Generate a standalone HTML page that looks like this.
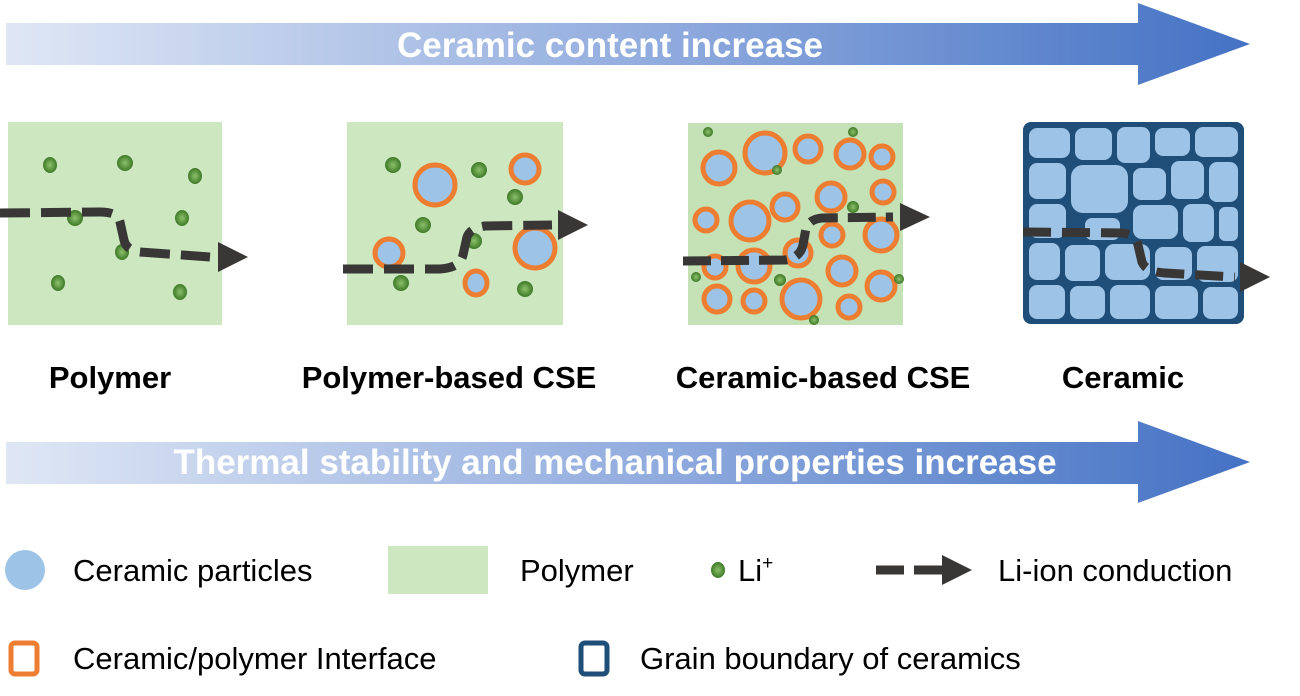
<!DOCTYPE html>
<html><head><meta charset="utf-8"><style>
html,body{margin:0;padding:0;background:#fff;}
svg{display:block;font-family:"Liberation Sans",Arial,sans-serif;}
</style></head><body>
<svg width="1300" height="696" viewBox="0 0 1300 696" xmlns="http://www.w3.org/2000/svg">
<defs>
<linearGradient id="ag" x1="0" x2="1" y1="0" y2="0">
<stop offset="0" stop-color="#dfe7f5"/><stop offset="0.5" stop-color="#94aedf"/><stop offset="1" stop-color="#4472c4"/>
</linearGradient>
<radialGradient id="li" cx="0.5" cy="0.5" r="0.5">
<stop offset="0" stop-color="#8cc06a"/><stop offset="1" stop-color="#3f7a28"/>
</radialGradient>
</defs>

<polygon points="6,23 1138,23 1138,3 1250,44 1138,85 1138,65 6,65" fill="url(#ag)"/>
<text x="610" y="57" font-size="35" font-weight="bold" fill="#fff" text-anchor="middle">Ceramic content increase</text>

<!-- Panel 1 -->
<rect x="8" y="122" width="214" height="203" fill="#cde8c0"/>
<g fill="url(#li)">
<ellipse cx="50" cy="165" rx="7" ry="8"/><ellipse cx="125" cy="163" rx="8" ry="8"/><ellipse cx="195" cy="176" rx="7" ry="8"/>
<ellipse cx="75" cy="218" rx="8" ry="8"/><ellipse cx="182" cy="218" rx="7" ry="8"/><ellipse cx="122" cy="252" rx="7" ry="8"/>
<ellipse cx="58" cy="283" rx="7" ry="8"/><ellipse cx="180" cy="292" rx="7" ry="8"/>
</g>
<path d="M0,213 L100,212 Q118,212 120,222 L124,240 Q126,250 140,252 L210,257" fill="none" stroke="#383736" stroke-width="9" stroke-dasharray="30,11"/>
<polygon points="218,242 248,257 218,272" fill="#383736"/>

<!-- Panel 2 -->
<rect x="347" y="122" width="216" height="203" fill="#cde8c0"/>
<g fill="url(#li)">
<ellipse cx="393" cy="165" rx="8" ry="8"/><ellipse cx="479" cy="170" rx="8" ry="8"/><ellipse cx="515" cy="197" rx="8" ry="8"/>
<ellipse cx="423" cy="225" rx="8" ry="8"/><ellipse cx="474" cy="241" rx="8" ry="8"/><ellipse cx="401" cy="283" rx="8" ry="8"/><ellipse cx="525" cy="289" rx="8" ry="8"/>
</g>
<g fill="#9dc3e6" stroke="#ed7d31" stroke-width="5">
<ellipse cx="435" cy="185" rx="20" ry="20"/><ellipse cx="525" cy="169" rx="14" ry="14"/><ellipse cx="389" cy="253" rx="14" ry="14"/>
<ellipse cx="535" cy="248" rx="20" ry="20"/><ellipse cx="476" cy="283" rx="11" ry="12"/>
</g>
<path d="M343,269 L440,269 Q460,268 463,255 L467,237 Q470,228 485,226 L552,225" fill="none" stroke="#383736" stroke-width="9" stroke-dasharray="30,11"/>
<polygon points="558,210 588,225 558,240" fill="#383736"/>

<!-- Panel 3 -->
<rect x="688" y="123" width="215" height="202" fill="#c5e2b6"/>
<g fill="#9dc3e6" stroke="#ed7d31" stroke-width="5">
<circle cx="719" cy="168" r="16"/><circle cx="765" cy="153" r="20"/><circle cx="808" cy="149" r="13"/><circle cx="850" cy="154" r="14"/>
<circle cx="882" cy="157" r="11"/><circle cx="883" cy="192" r="11"/><circle cx="831" cy="197" r="14"/><circle cx="785" cy="207" r="13"/>
<circle cx="750" cy="221" r="19"/><circle cx="706" cy="220" r="11"/><circle cx="832" cy="235" r="11"/><circle cx="881" cy="235" r="16"/>
<circle cx="798" cy="253" r="13"/><circle cx="754" cy="266" r="16"/><circle cx="715" cy="267" r="11"/><circle cx="842" cy="271" r="14"/>
<circle cx="881" cy="286" r="14"/><circle cx="717" cy="299" r="13"/><circle cx="754" cy="301" r="11"/><circle cx="801" cy="299" r="19"/><circle cx="849" cy="307" r="11"/>
</g>
<g fill="url(#li)">
<circle cx="708" cy="132" r="5"/><circle cx="853" cy="132" r="5"/><circle cx="777" cy="170" r="5"/><circle cx="853" cy="207" r="6"/>
<circle cx="696" cy="277" r="5"/><circle cx="780" cy="280" r="6"/><circle cx="899" cy="279" r="5"/><circle cx="814" cy="320" r="5"/>
</g>
<path d="M683,261 L785,260 Q800,258 803,245 L806,228 Q810,219 822,218 L893,217" fill="none" stroke="#383736" stroke-width="9" stroke-dasharray="28,10"/>
<polygon points="900,203 930,217 900,231" fill="#383736"/>

<!-- Panel 4 -->
<rect x="1023" y="122" width="221" height="202" rx="8" fill="#1f4e79"/>
<g fill="#9dc3e6">
<rect x="1029" y="128" width="41" height="30" rx="8"/><rect x="1075" y="128" width="37" height="32" rx="8"/><rect x="1117" y="127" width="33" height="36" rx="8"/><rect x="1155" y="128" width="35" height="28" rx="8"/><rect x="1195" y="127" width="43" height="30" rx="8"/>
<rect x="1029" y="163" width="37" height="36" rx="8"/><rect x="1071" y="165" width="57" height="48" rx="12"/><rect x="1133" y="168" width="33" height="32" rx="8"/><rect x="1171" y="161" width="33" height="38" rx="8"/><rect x="1209" y="162" width="29" height="40" rx="8"/>
<rect x="1029" y="204" width="37" height="34" rx="8"/><rect x="1085" y="218" width="35" height="22" rx="7"/><rect x="1133" y="205" width="45" height="34" rx="9"/><rect x="1183" y="204" width="31" height="38" rx="8"/><rect x="1219" y="207" width="19" height="34" rx="6"/>
<rect x="1029" y="243" width="31" height="37" rx="8"/><rect x="1065" y="245" width="35" height="36" rx="8"/><rect x="1105" y="244" width="45" height="36" rx="9"/><rect x="1155" y="247" width="37" height="33" rx="8"/><rect x="1197" y="246" width="41" height="36" rx="8"/>
<rect x="1029" y="285" width="36" height="34" rx="8"/><rect x="1070" y="286" width="35" height="33" rx="8"/><rect x="1110" y="285" width="40" height="34" rx="8"/><rect x="1155" y="286" width="43" height="33" rx="8"/><rect x="1203" y="287" width="35" height="32" rx="8"/>
</g>
<path d="M1023,232 L1122,233 Q1135,234 1138,245 L1142,262 Q1146,272 1165,273 L1235,277" fill="none" stroke="#383736" stroke-width="9" stroke-dasharray="28,11"/>
<polygon points="1240,262 1270,277 1240,292" fill="#383736"/>

<g font-size="31" font-weight="bold" fill="#000" text-anchor="middle">
<text x="110" y="388">Polymer</text>
<text x="449" y="388">Polymer-based CSE</text>
<text x="823" y="388">Ceramic-based CSE</text>
<text x="1123" y="388">Ceramic</text>
</g>

<polygon points="6,442 1138,442 1138,421 1250,462 1138,503 1138,484 6,484" fill="url(#ag)"/>
<text x="615" y="474" font-size="35" font-weight="bold" fill="#fff" text-anchor="middle">Thermal stability and mechanical properties increase</text>

<ellipse cx="25" cy="570" rx="20" ry="20" fill="#9dc3e6"/>
<text x="73" y="581" font-size="31">Ceramic particles</text>
<rect x="388" y="546" width="100" height="48" fill="#cde8c0"/>
<text x="520" y="581" font-size="31">Polymer</text>
<ellipse cx="718" cy="570" rx="7" ry="8" fill="url(#li)"/>
<text x="738" y="581" font-size="31">Li<tspan font-size="19" dy="-12">+</tspan></text>
<line x1="876" y1="570" x2="942" y2="570" stroke="#383736" stroke-width="9" stroke-dasharray="28,10"/>
<polygon points="942,555 972,570 942,585" fill="#383736"/>
<text x="998" y="581" font-size="31">Li-ion conduction</text>
<rect x="11" y="643" width="26" height="31" rx="4" fill="none" stroke="#ed7d31" stroke-width="5"/>
<text x="73" y="669" font-size="31">Ceramic/polymer Interface</text>
<rect x="581" y="643" width="26" height="31" rx="4" fill="none" stroke="#1f4e79" stroke-width="5"/>
<text x="640" y="669" font-size="31">Grain boundary of ceramics</text>
</svg>
</body></html>
